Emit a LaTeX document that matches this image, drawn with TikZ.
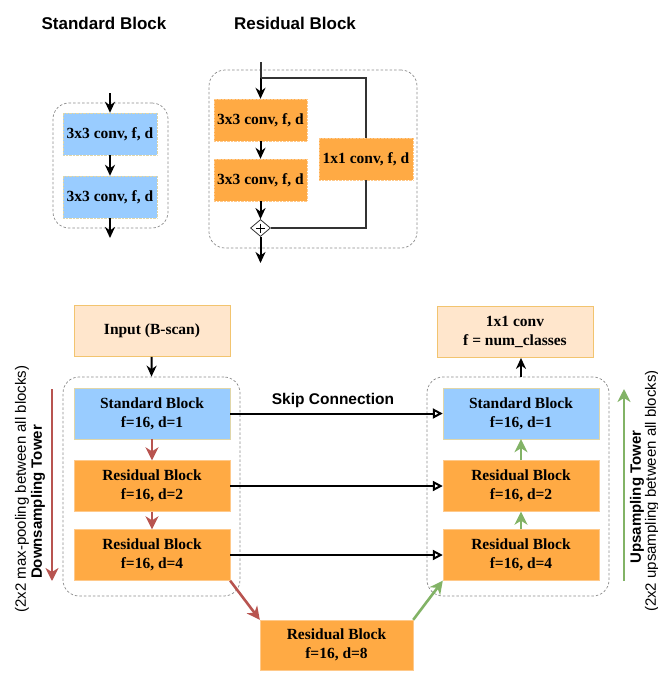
\documentclass[tikz,border=0pt]{standalone}
\usepackage{fontspec}
\setmainfont{Liberation Serif}
\setsansfont{Liberation Sans}
\usepackage{xcolor}
\usepackage{tikz}
\usetikzlibrary{shapes,arrows.meta,positioning,calc}

\definecolor{stdblue}{HTML}{99CCFF}
\definecolor{stdblueline}{HTML}{E0D6A8}
\definecolor{resorange}{HTML}{FFAA44}
\definecolor{resorangeline}{HTML}{FFC98A}
\definecolor{inputfill}{HTML}{FFE6CC}
\definecolor{inputline}{HTML}{F2C46F}
\definecolor{downred}{HTML}{B85450}
\definecolor{upgreen}{HTML}{82B366}
\definecolor{groupgray}{HTML}{8A8A8A}

\tikzset{
  titletext/.style={font=\sffamily\bfseries\fontsize{17}{20}\selectfont},
  sidetext/.style={font=\sffamily\fontsize{15}{18}\selectfont, rotate=90, inner sep=0pt},
  sidebold/.style={font=\sffamily\bfseries\fontsize{15}{18}\selectfont, rotate=90, inner sep=0pt},
  conv/.style={minimum width=94pt, minimum height=42pt, inner sep=0pt,
    densely dotted, font=\bfseries\fontsize{15.5}{18}\selectfont},
  stdconv/.style={conv, fill=stdblue, draw=stdblueline},
  resconv/.style={conv, fill=resorange, draw=resorangeline},
  block/.style={minimum width=156pt, minimum height=51pt, inner sep=0pt, align=center,
    font=\bfseries\fontsize{15.5}{19}\selectfont},
  stdblock/.style={block, fill=stdblue, draw=stdblueline},
  resblock/.style={block, fill=resorange, draw=resorangeline},
  ioblock/.style={block, fill=inputfill, draw=inputline, line width=0.8pt},
  group/.style={draw=groupgray, dash pattern=on 2.5pt off 2pt, line width=0.7pt,
    rounded corners=16pt, inner sep=0pt},
  flow/.style={-{Stealth[length=11pt,width=10pt,inset=3.5pt]}, line width=2pt},
  resline/.style={line width=2pt, draw=black!80},
  skip/.style={-{Triangle[open,length=10pt,width=10pt]}, line width=2pt},
  down/.style={-{Stealth[length=13pt,width=13pt,inset=4pt]}, line width=2.6pt, draw=downred},
  up/.style={-{Stealth[length=13pt,width=13pt,inset=4pt]}, line width=2.6pt, draw=upgreen}
}

\begin{document}
\begin{tikzpicture}[x=1pt,y=-1pt]
    \useasboundingbox (0,0) rectangle (658,673);

    % Titles
    \node[titletext] (stdtitle) at (104,23) {Standard Block};
    \node[titletext] (restitle) at (295,23) {Residual Block};

    % Standard block sketch
    \node[group, minimum width=115pt, minimum height=125pt] (stdgroup) at (110.5,165.5) {};
    \node[stdconv] (sconvA) at (110,134) {3x3 conv, f, d};
    \node[stdconv] (sconvB) at (110,197) {3x3 conv, f, d};
    \coordinate (sin) at (110,93);
    \coordinate (sout) at (110,238);
    \draw[flow] (sin) -- (sconvA);
    \draw[flow] (sconvA) -- (sconvB);
    \draw[flow] (sconvB) -- (sout);

    % Residual block sketch
    \node[group, minimum width=208pt, minimum height=178pt] (resgroup) at (313,159) {};
    \node[resconv, minimum width=93pt] (rconvA) at (260.5,120) {3x3 conv, f, d};
    \node[resconv, minimum width=93pt] (rconvB) at (260.5,180) {3x3 conv, f, d};
    \node[resconv] (rconvC) at (366,159) {1x1 conv, f, d};
    \node[diamond, draw=black!80, fill=white, minimum width=20pt, minimum height=17pt,
          inner sep=0pt, line width=0.8pt] (radd) at (260.5,228) {};
    \draw[line width=0.9pt] ($(radd)+(-4.5,0)$) -- ($(radd)+(4.5,0)$)
                            ($(radd)+(0,-4.5)$) -- ($(radd)+(0,4.5)$);
    \coordinate (rin) at (260.5,62);
    \coordinate (rsplit) at (260.5,78);
    \coordinate (rout) at (260.5,263);
    \draw[resline] (rin) -- (rsplit);
    \draw[flow] (rsplit) -- (rconvA);
    \draw[resline] (rsplit) -| (rconvC.north);
    \draw[resline] (rconvC.south) |- (radd.east);
    \draw[flow] (rconvA) -- (rconvB);
    \draw[flow] (rconvB) -- (radd.north);
    \draw[flow] (radd.south) -- (rout);

    % Downsampling tower
    \node[ioblock] (input) at (152,331) {Input (B-scan)};
    \node[group, minimum width=177pt, minimum height=219pt] (downgroup) at (151.5,486.5) {};
    \node[stdblock] (dstd) at (152,413.5) {Standard Block\\f=16, d=1};
    \node[resblock] (dresA) at (152,486) {Residual Block\\f=16, d=2};
    \node[resblock] (dresB) at (152,555) {Residual Block\\f=16, d=4};
    \draw[flow] (input) -- (downgroup.north);
    \draw[down, line width=2.2pt] (dstd) -- (dresA);
    \draw[down, line width=2.2pt] (dresA) -- (dresB);

    % Bottleneck
    \node[resblock, minimum width=153pt, minimum height=50pt] (bottom) at (336.5,645) {Residual Block\\f=16, d=8};
    \draw[down] (dresB.south east) -- (bottom.north west);

    % Upsampling tower
    \node[ioblock] (output) at (515,332) {1x1 conv\\f = num\_classes};
    \node[group, minimum width=182pt, minimum height=219pt] (upgroup) at (518,486.5) {};
    \node[stdblock] (ustd) at (521,413.5) {Standard Block\\f=16, d=1};
    \node[resblock] (uresA) at (521,486) {Residual Block\\f=16, d=2};
    \node[resblock] (uresB) at (521,555) {Residual Block\\f=16, d=4};
    \draw[up] (bottom.north east) -- (uresB.south west);
    \draw[up, line width=2.2pt] (uresB) -- (uresA);
    \draw[up, line width=2.2pt] (uresA) -- (ustd);
    \draw[flow] (upgroup.north -| ustd) -- (output.south -| ustd);

    % Skip connections
    \draw[skip] (dstd) -- (ustd);
    \draw[skip] (dresA) -- (uresA);
    \draw[skip] (dresB) -- (uresB);
    \node[font=\sffamily\bfseries\fontsize{15.5}{18}\selectfont] (skiplabel) at (333,400) {Skip Connection};

    % Tower labels
    \coordinate (downtop) at (52,389);
    \coordinate (downend) at (52,581);
    \draw[down] (downtop) -- (downend);
    \node[sidetext] (downnote) at (22,489) {(2x2 max-pooling between all blocks)};
    \node[sidebold] (downlabel) at (38,502) {Downsampling Tower};
    \coordinate (upstart) at (624,581);
    \coordinate (upend) at (624,389);
    \draw[up] (upstart) -- (upend);
    \node[sidebold] (uplabel) at (637,497) {Upsampling Tower};
    \node[sidetext] (upnote) at (652,491) {(2x2 upsampling between all blocks)};
\end{tikzpicture}
\end{document}
